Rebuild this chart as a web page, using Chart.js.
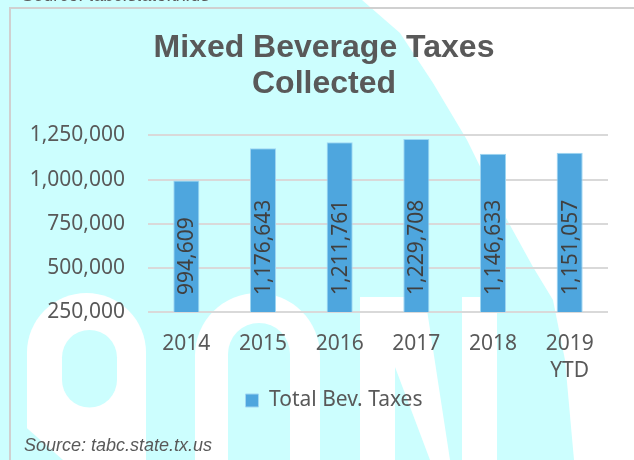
<!DOCTYPE html>
<html>
<head>
<meta charset="utf-8">
<script src="https://cdn.jsdelivr.net/npm/chart.js@4"></script>
<style>
  html, body { margin: 0; padding: 0; background: #fff; }
  #wrap { width: 634px; height: 460px; }
</style>
</head>
<body>
<div id="wrap"><canvas id="mixed_bev"></canvas></div>
<script>
const years = ["2014", "2015", "2016", "2017", "2018", ["2019", "YTD"]];
const taxes = [994609, 1176643, 1211761, 1229708, 1146633, 1151057];
const yMin = 250000;
const yMax = 1250000;
const yStep = 250000;

const GRAY = "#595959";
const CYAN = "#ccfefe";

function poly(ctx, pts, col) {
    ctx.fillStyle = col;
    ctx.beginPath();
    pts.forEach((p, i) => i ? ctx.lineTo(p[0], p[1]) : ctx.moveTo(p[0], p[1]));
    ctx.closePath();
    ctx.fill();
}

function arch(ctx, x0, x1, top, bottom, col, roundBottom) {
    const r = (x1 - x0) / 2;
    ctx.fillStyle = col;
    ctx.beginPath();
    ctx.moveTo(x0, bottom);
    ctx.lineTo(x0, top + r);
    ctx.arc(x0 + r, top + r, r, Math.PI, 0);
    ctx.lineTo(x1, bottom);
    if (roundBottom) ctx.arc(x0 + r, bottom, r, 0, Math.PI);
    ctx.closePath();
    ctx.fill();
}

// faded logo behind the chart + the frame lines
const backdrop = {
    id: "backdrop",
    afterLayout(chart) {
        // excel centres title and legend a bit right of the canvas centre
        chart.titleBlock.left += 10;
        chart.titleBlock.right += 10;
        chart.legend.left += 20;
        chart.legend.right += 20;
    },
    beforeDraw(chart) {
        const ctx = chart.ctx;
        ctx.save();
        ctx.fillStyle = "#fff";
        ctx.fillRect(0, 0, chart.width, chart.height);

        poly(ctx, [[0, 0], [362, 0], [400, 33], [433, 83], [467, 140], [500, 207], [533, 267],
                   [553, 300], [565, 360], [574, 460], [0, 460]], CYAN);

        // letters
        arch(ctx, 27, 146, 293, 460, "#fff");
        arch(ctx, 62, 117, 330, 380, CYAN, true);
        poly(ctx, [[12, 415], [63, 460], [12, 460]], CYAN);
        arch(ctx, 195, 320, 293, 460, "#fff");
        arch(ctx, 228, 290, 323, 460, CYAN);
        poly(ctx, [[360, 297], [425, 297], [450, 460], [430, 460], [395, 367], [395, 460], [360, 460]], "#fff");
        poly(ctx, [[462, 297], [497, 297], [497, 460], [462, 460]], "#fff");

        // frame
        ctx.strokeStyle = "#d0d0d0";
        ctx.lineWidth = 2;
        ctx.beginPath();
        ctx.moveTo(634, 8);
        ctx.lineTo(10, 8);
        ctx.lineTo(10, 460);
        ctx.stroke();

        ctx.fillStyle = GRAY;
        ctx.font = "italic 18px 'Liberation Sans'";
        ctx.textBaseline = "alphabetic";
        ctx.fillText("Source: tabc.state.tx.us", 22, 1);
        ctx.restore();
    },
    afterDraw(chart) {
        const ctx = chart.ctx;
        ctx.save();
        ctx.fillStyle = GRAY;
        ctx.font = "italic 18px 'Liberation Sans'";
        ctx.textBaseline = "alphabetic";
        ctx.fillText("Source: tabc.state.tx.us", 24, 451);
        ctx.restore();
    }
};

// vertical value labels inside the bars
const barValues = {
    id: "barValues",
    afterDatasetsDraw(chart) {
        const ctx = chart.ctx;
        const meta = chart.getDatasetMeta(0);
        const base = chart.scales.y.getPixelForValue(yMin);
        ctx.save();
        ctx.fillStyle = "#404040";
        ctx.font = "21px 'Noto Sans'";
        ctx.textAlign = "left";
        ctx.textBaseline = "middle";
        meta.data.forEach((bar, i) => {
            ctx.save();
            ctx.translate(bar.x, base - 17);
            ctx.rotate(-Math.PI / 2);
            ctx.fillText(taxes[i].toLocaleString("en-US"), 0, 1);
            ctx.restore();
        });
        ctx.restore();
    }
};

new Chart("mixed_bev", {
    type: "bar",
    data: {
        labels: years,
        datasets: [
            {
                label: "Total Bev. Taxes",
                data: taxes,
                backgroundColor: "#4ea6de",
                borderColor: "#9fd6f2",
                borderWidth: 1,
                barPercentage: 0.34,
                categoryPercentage: 1
            }
        ]
    },
    options: {
        responsive: true,
        maintainAspectRatio: false,
        animation: false,
        layout: { padding: { left: 20, right: 26, top: 0, bottom: 39 } },
        scales: {
            x: {
                grid: { display: false },
                border: { display: false },
                ticks: {
                    color: GRAY,
                    font: { family: "Noto Sans", size: 21, lineHeight: 1.3 },
                    padding: 10,
                    maxRotation: 0
                },
                afterFit: s => { s.height = 72; }
            },
            y: {
                min: yMin,
                max: yMax,
                grid: { color: "#d9d9d9", lineWidth: 2, drawTicks: false },
                border: { display: false },
                ticks: {
                    stepSize: yStep,
                    color: GRAY,
                    font: { family: "Noto Sans", size: 21 },
                    padding: 23,
                    callback: v => v.toLocaleString("en-US")
                },
                afterFit: s => { s.width = 128; }
            }
        },
        plugins: {
            title: {
                display: true,
                text: ["Mixed Beverage Taxes", "Collected"],
                color: GRAY,
                font: { family: "Liberation Sans", size: 32, weight: "bold", lineHeight: 1.1 },
                padding: { top: 31, bottom: 34 }
            },
            legend: {
                position: "bottom",
                labels: {
                    color: GRAY,
                    font: { family: "Noto Sans", size: 21 },
                    boxWidth: 13,
                    boxHeight: 13,
                    padding: 6
                }
            },
            tooltip: { enabled: false }
        }
    },
    plugins: [backdrop, barValues]
});
</script>
</body>
</html>
